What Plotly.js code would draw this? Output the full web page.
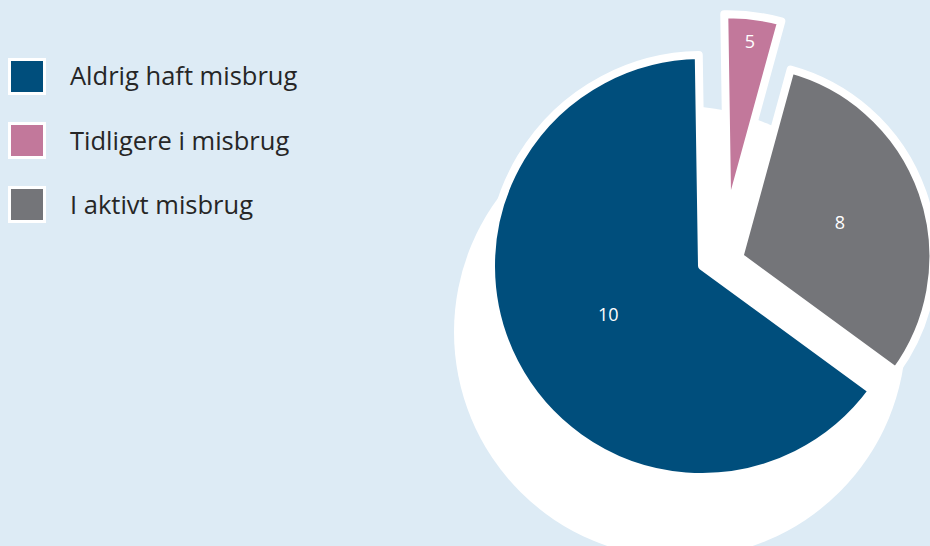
<!DOCTYPE html>
<html>
<head>
<meta charset="utf-8">
<script src="https://cdn.plot.ly/plotly-3.0.1.min.js"></script>
<style>
  html, body { margin: 0; padding: 0; background: #DDEBF5; overflow: hidden; width: 930px; height: 546px; }
  #chart { width: 1000px; height: 546px; }
</style>
</head>
<body>
<div id="chart"></div>
<script>
// ---- data ----
const categories = ["Aldrig haft misbrug", "Tidligere i misbrug", "I aktivt misbrug"];
const shares = [64.7, 4.5, 30.8];          // slice sizes (% of circle)
const sliceLabels = ["10", "5", "8"];      // numbers printed on the slices
const colors = ["#004E7C", "#C2789B", "#747579"];

// ---- layout helpers (pixels -> paper) ----
const W = 1000, H = 546;
function dom(cx, cy, r) {
  return { x: [(cx - r) / W, (cx + r) / W], y: [1 - (cy + r) / H, 1 - (cy - r) / H] };
}
// each slice drawn by its own pie trace (same data, other slices transparent)
const sliceGeom = [
  { cx: 702, cy: 266, r: 211 },
  { cx: 727.4, cy: 218.2, r: 204 },
  { cx: 739.4, cy: 256.6, r: 194 }
];

const traces = categories.map((_, k) => ({
  type: "pie",
  labels: categories,
  values: shares,
  text: sliceLabels.map((t, i) => (i === k ? t : "")),
  textinfo: "text",
  textposition: "inside",
  insidetextorientation: "horizontal",
  insidetextfont: { family: "Open Sans, sans-serif", size: 18, color: "#FFFFFF" },
  sort: false,
  direction: "clockwise",
  rotation: 126.2,
  marker: {
    colors: colors.map((c, i) => (i === k ? c : "rgba(0,0,0,0)")),
    line: {
      color: "#FFFFFF",
      width: colors.map((c, i) => (i === k ? 8 : 0))
    }
  },
  domain: dom(sliceGeom[k].cx, sliceGeom[k].cy, sliceGeom[k].r),
  hoverinfo: "skip",
  showlegend: false
}));

// legend (manual, large swatches)
const shapes = [];
const annotations = [];
// white shadow disc behind the pie
shapes.push({
  type: "circle", xref: "paper", yref: "paper", layer: "below",
  x0: (680 - 226) / W, x1: (680 + 226) / W,
  y0: 1 - (332 + 226) / H, y1: 1 - (332 - 226) / H,
  fillcolor: "#FFFFFF", line: { width: 0 }
});
categories.forEach((c, i) => {
  const yc = 76.5 + i * 64;
  shapes.push({
    type: "rect", xref: "paper", yref: "paper",
    x0: 9.5 / W, x1: 44.5 / W,
    y0: 1 - (yc + 17) / H, y1: 1 - (yc - 17) / H,
    fillcolor: colors[i], line: { color: "#FFFFFF", width: 3 }
  });
  annotations.push({
    xref: "paper", yref: "paper",
    x: 67.5 / W, y: 1 - (yc - 1) / H,
    xanchor: "left", yanchor: "middle",
    text: c, showarrow: false,
    font: { family: "Open Sans, sans-serif", size: 25.5, color: "#262626" }
  });
});

const layout = {
  width: W, height: H,
  margin: { l: 0, r: 0, t: 0, b: 0, pad: 0 },
  paper_bgcolor: "#DDEBF5",
  plot_bgcolor: "#DDEBF5",
  showlegend: false,
  shapes: shapes,
  annotations: annotations
};

Plotly.newPlot("chart", traces, layout, { displayModeBar: false, staticPlot: true });
</script>
</body>
</html>
